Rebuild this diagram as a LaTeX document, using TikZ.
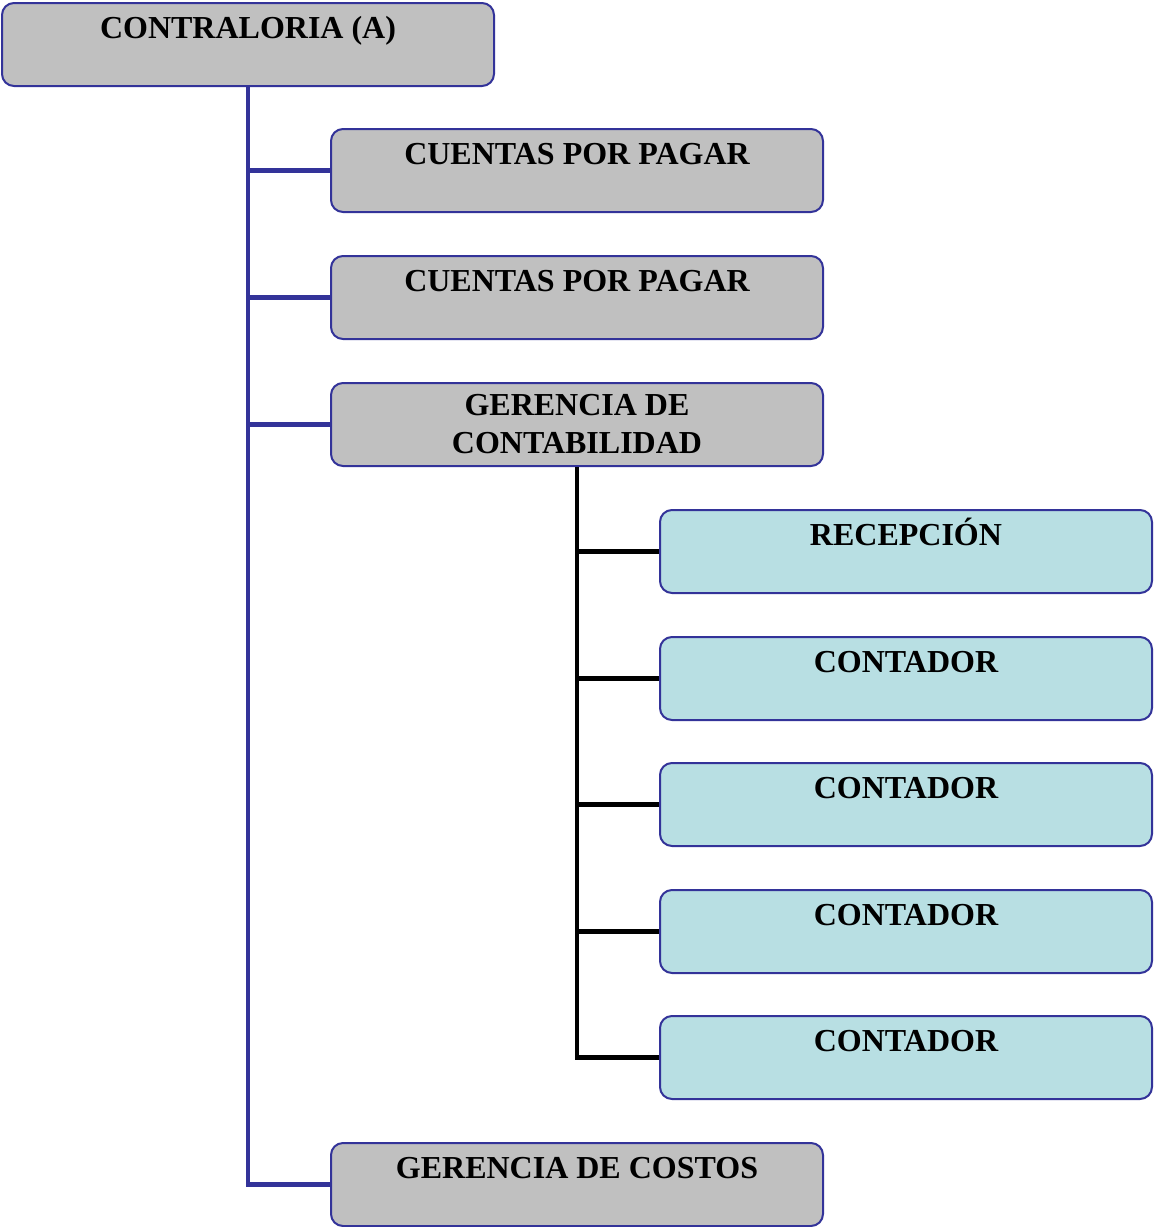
\documentclass[tikz,border=0pt]{standalone}
\usepackage{fontspec}
\setmainfont{Liberation Serif}
\definecolor{boxgray}{HTML}{C0C0C0}
\definecolor{boxblue}{HTML}{B8DFE3}
\definecolor{edgeblue}{HTML}{333399}
\definecolor{lineblue}{HTML}{333399}
\begin{document}
\begin{tikzpicture}[x=1pt,y=-1pt,
  box/.style={draw=edgeblue, line width=2pt, rounded corners=12pt, inner sep=0pt,
    minimum width=492pt, minimum height=83pt, anchor=north west,
    font=\fontsize{32}{38}\selectfont\bfseries},
  topbox/.style={box, text height=35pt, text depth=48pt},
  graybox/.style={fill=boxgray},
  cyanbox/.style={fill=boxblue},
  twoline/.style={box, align=center},
  blueline/.style={draw=lineblue, line width=4.5pt},
  blackline/.style={draw=black, line width=4.5pt}]
\useasboundingbox (0,0) rectangle (1156,1227);
% Level 0
\node[topbox, graybox] (a) at (1,2) {CONTRALORIA (A)};
% Level 1
\node[topbox, graybox] (cp1) at (330,128) {CUENTAS POR PAGAR};
\node[topbox, graybox] (cp2) at (330,255) {CUENTAS POR PAGAR};
\node[twoline, graybox] (gc) at (330,382) {GERENCIA DE\\CONTABILIDAD};
\node[topbox, graybox] (gco) at (330,1142) {GERENCIA DE COSTOS};
% Level 2
\node[topbox, cyanbox] (rec) at (659,509) {RECEPCIÓN};
\node[topbox, cyanbox] (c1) at (659,636) {CONTADOR};
\node[topbox, cyanbox] (c2) at (659,762) {CONTADOR};
\node[topbox, cyanbox] (c3) at (659,889) {CONTADOR};
\node[topbox, cyanbox] (c4) at (659,1015) {CONTADOR};
% Connectors level 0 -> 1
\draw[blueline] (a.south) -- (a.south |- gco.west) -- (gco.west);
\draw[blueline] (a.south |- cp1.west) -- (cp1.west);
\draw[blueline] (a.south |- cp2.west) -- (cp2.west);
\draw[blueline] (a.south |- gc.west) -- (gc.west);
% Connectors level 1 -> 2
\draw[blackline] (gc.south) -- (gc.south |- c4.west) -- (c4.west);
\draw[blackline] (gc.south |- rec.west) -- (rec.west);
\draw[blackline] (gc.south |- c1.west) -- (c1.west);
\draw[blackline] (gc.south |- c2.west) -- (c2.west);
\draw[blackline] (gc.south |- c3.west) -- (c3.west);
\end{tikzpicture}
\end{document}
